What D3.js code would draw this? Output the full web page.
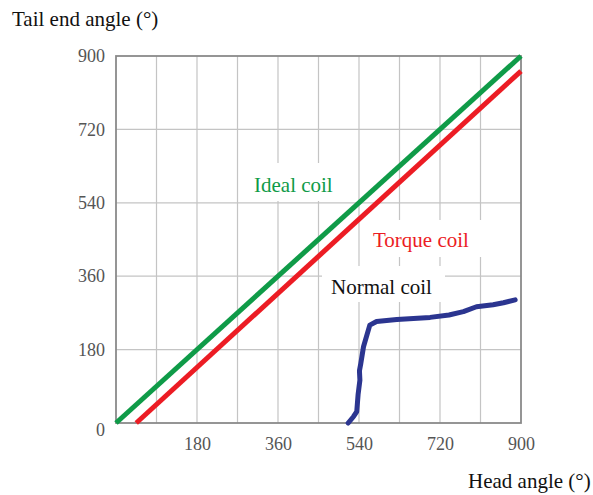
<!DOCTYPE html>
<html>
<head>
<meta charset="utf-8">
<script src="https://cdn.jsdelivr.net/npm/d3@7"></script>
<style>
  body { margin: 0; background: #fff; }
  text { font-family: "Liberation Serif", "DejaVu Serif", serif; }
</style>
</head>
<body>
<div class="chart"></div>
<script>
// ticks
var xTicks = [180, 360, 540, 720, 900];
var yTicks = [0, 180, 360, 540, 720, 900];
var xGrid = [90, 180, 270, 360, 450, 540, 630, 720, 810];

// series: [head angle, tail end angle]
var idealCoil = [[0, 0], [900, 900]];
var torqueCoil = [[45, 0], [900, 863]];
var normalCoil = [
  [516, 0], [528, 16], [535, 28], [538, 70], [542, 105], [541, 128], [544, 146],
  [550, 187], [564, 240], [579, 249], [624, 254], [698, 259], [740, 265],
  [772, 273], [801, 285], [838, 290], [861, 295], [887, 302]
];

var svg = d3.select(".chart").append("svg")
  .attr("width", 593).attr("height", 495);

//plot area
var x = d3.scaleLinear().domain([0, 900]).range([116, 521]);
var y = d3.scaleLinear().domain([0, 900]).range([423, 56]);

// gridlines
svg.append("g").selectAll("line").data(xGrid).enter().append("line")
  .attr("x1", function(d) { return x(d); }).attr("x2", function(d) { return x(d); })
  .attr("y1", y(0)).attr("y2", y(900))
  .attr("stroke", "#c4c4c4").attr("stroke-width", 1.2);

svg.append("g").selectAll("line").data(yTicks.slice(1, -1)).enter().append("line")
  .attr("y1", function(d) { return y(d); }).attr("y2", function(d) { return y(d); })
  .attr("x1", x(0)).attr("x2", x(900))
  .attr("stroke", "#c4c4c4").attr("stroke-width", 1.2);

// white boxes behind the labels (they hide the grid)
svg.append("rect").attr("x", 246).attr("y", 163).attr("width", 96).attr("height", 38).attr("fill", "#fff");
svg.append("rect").attr("x", 365).attr("y", 220).attr("width", 120).attr("height", 37).attr("fill", "#fff");
svg.append("rect").attr("x", 322).attr("y", 266).attr("width", 123).attr("height", 36).attr("fill", "#fff");

svg.append("rect")
  .attr("x", x(0)).attr("y", y(900))
  .attr("width", x(900) - x(0)).attr("height", y(0) - y(900))
  .attr("fill", "none").attr("stroke", "#8a8a8a").attr("stroke-width", 1.8);

// axes
var xAxis = d3.axisBottom(x).tickValues(xTicks).tickSize(0).tickPadding(14);
var gx = svg.append("g").attr("transform", "translate(0," + y(0) + ")").call(xAxis);
gx.select(".domain").remove();
gx.selectAll("text").attr("font-size", 18).attr("fill", "#555")
  .style("font-family", "Liberation Serif, serif");

var yAxis = d3.axisLeft(y).tickValues(yTicks).tickSize(0).tickPadding(11);
var gy = svg.append("g").attr("transform", "translate(" + x(0) + ",0)").call(yAxis);
gy.select(".domain").remove();
gy.selectAll("text").attr("font-size", 18).attr("fill", "#555")
  .style("font-family", "Liberation Serif, serif");
gy.selectAll(".tick").filter(function(d) { return d === 0; })
  .select("text").attr("dy", "0.7em");

// lines
var line = d3.line()
  .x(function(d) { return x(d[0]); })
  .y(function(d) { return y(d[1]); });

svg.append("path").datum(torqueCoil).attr("d", line)
  .attr("fill", "none").attr("stroke", "#ec1c24").attr("stroke-width", 5);
svg.append("path").datum(idealCoil).attr("d", line)
  .attr("fill", "none").attr("stroke", "#0f9b48").attr("stroke-width", 5);
svg.append("path").datum(normalCoil).attr("d", line)
  .attr("fill", "none").attr("stroke", "#2b3590").attr("stroke-width", 5)
  .attr("stroke-linecap", "round").attr("stroke-linejoin", "round");

// labels
svg.append("text").attr("x", 254).attr("y", 192).attr("font-size", 21)
  .attr("fill", "#0f9b48").text("Ideal coil");
svg.append("text").attr("x", 373).attr("y", 247).attr("font-size", 21)
  .attr("fill", "#ec1c24").text("Torque coil");
svg.append("text").attr("x", 331).attr("y", 294).attr("font-size", 21)
  .attr("fill", "#111").text("Normal coil");

svg.append("text").attr("x", 12).attr("y", 26).attr("font-size", 21)
  .attr("fill", "#111").text("Tail end angle (°)");
svg.append("text").attr("x", 468).attr("y", 488).attr("font-size", 21)
  .attr("fill", "#111").text("Head angle (°)");
</script>
</body>
</html>
